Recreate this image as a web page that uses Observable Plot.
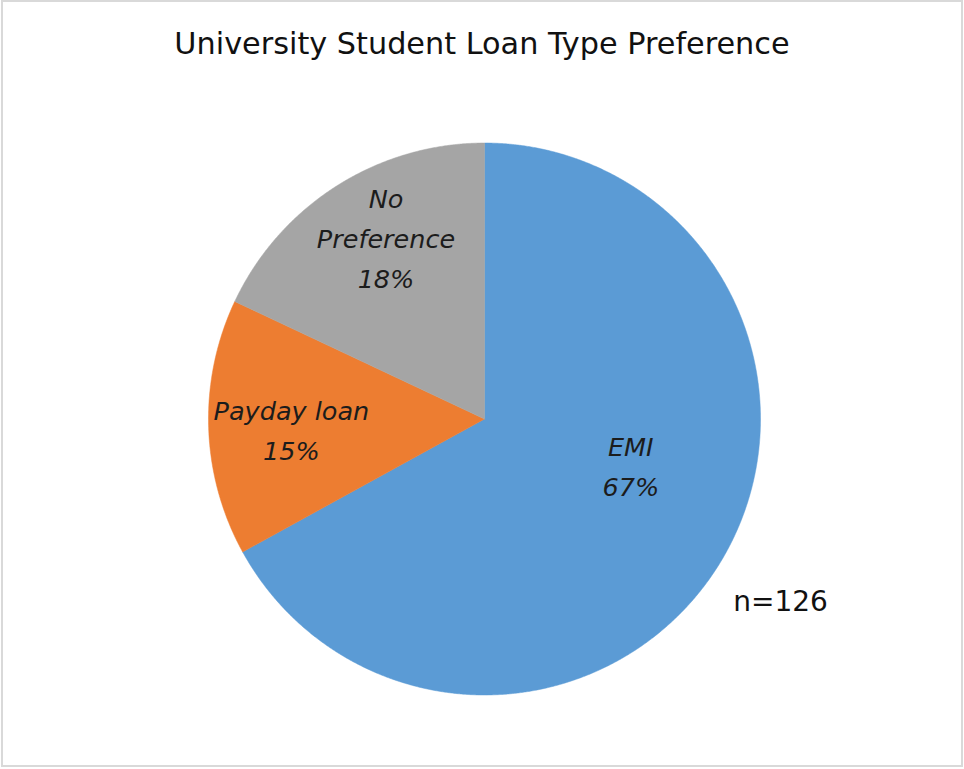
<!DOCTYPE html>
<html>
<head>
<meta charset="utf-8">
<script src="https://cdn.jsdelivr.net/npm/d3@7"></script>
<script src="https://cdn.jsdelivr.net/npm/@observablehq/plot@0.6"></script>
<style>
  body { margin: 0; background: #fff; }
  #frame {
    position: absolute; left: 1px; top: 0; width: 962px; height: 767px;
    border: 2px solid #d9d9d9; box-sizing: border-box; background: #fff;
  }
  #title {
    height: 84px; box-sizing: border-box; padding-top: 24px;
    text-align: center; font-family: "DejaVu Sans", sans-serif;
    font-size: 30.3px; line-height: 35px; color: #111; white-space: nowrap;
  }
  #chart svg { display: block; }
</style>
</head>
<body>
<div id="frame">
  <div id="title">University Student Loan Type Preference</div>
  <div id="chart"></div>
</div>
<script>
// ---- data ----
const categories = ["EMI", "Payday loan", "No Preference"];
const sliceLabels = ["EMI", "Payday loan", "No\nPreference"];
const percents = [67, 15, 18];
const colors = ["#5B9BD5", "#ED7D31", "#A5A5A5"];
const sampleNote = "n=126";

// ---- layout ----
const W = 958, H = 679;          // svg size
const CX = 481, CY = 332.5;      // pie centre in svg px
const R = 276;                   // pie radius in px
const labelRadius = 0.7;         // fraction of radius for label anchor
const labelNudge = {             // px fine-tuning of label anchors
  "EMI": [-20, -54],
  "Payday loan": [0, 2],
  "No Preference": [5, -21]
};

// ---- slice geometry from the values ----
const total = d3.sum(percents);
const slices = [];
let acc = 0;
categories.forEach((cat, i) => {
  const a0 = acc / total * 2 * Math.PI;
  acc += percents[i];
  const a1 = acc / total * 2 * Math.PI;
  slices.push({cat, i, a0, a1});
});

const polyRows = [];
for (const s of slices) {
  polyRows.push({cat: s.cat, x: 0, y: 0});
  const n = Math.max(2, Math.ceil((s.a1 - s.a0) / (Math.PI / 720)));
  for (let k = 0; k <= n; k++) {
    const a = s.a0 + (s.a1 - s.a0) * k / n;
    polyRows.push({cat: s.cat, x: Math.sin(a), y: Math.cos(a)});
  }
  polyRows.push({cat: s.cat, x: 0, y: 0});
}

const labelRows = slices.map(s => {
  const m = (s.a0 + s.a1) / 2;
  const [dx, dy] = labelNudge[s.cat];
  return {
    cat: s.cat,
    x: labelRadius * Math.sin(m) + dx / R,
    y: labelRadius * Math.cos(m) - dy / R,
    text: sliceLabels[s.i] + "\n" + percents[s.i] + "%"
  };
});

const chart = Plot.plot({
  width: W,
  height: H,
  margin: 0,
  style: {background: "transparent"},
  x: {domain: [-CX / R, (W - CX) / R], axis: null},
  y: {domain: [-(H - CY) / R, CY / R], axis: null},
  color: {domain: categories, range: colors},
  marks: [
    Plot.line(polyRows, {
      x: "x", y: "y", z: "cat", fill: "cat", stroke: "cat",
      strokeWidth: 0.5, curve: "linear"
    }),
    Plot.text(labelRows, {
      x: "x", y: "y", text: "text",
      fontFamily: "DejaVu Sans", fontSize: 25.5, fontStyle: "italic",
      fill: "#1c1c1c", lineHeight: 1.57, lineAnchor: "middle", textAnchor: "middle"
    }),
    Plot.text([sampleNote], {
      text: d => d, frameAnchor: "bottom-right", dx: -181, dy: -163,
      fontFamily: "DejaVu Sans", fontSize: 28, fill: "#111",
      textAnchor: "middle", lineAnchor: "middle"
    })
  ]
});
document.getElementById("chart").appendChild(chart);
</script>
</body>
</html>
